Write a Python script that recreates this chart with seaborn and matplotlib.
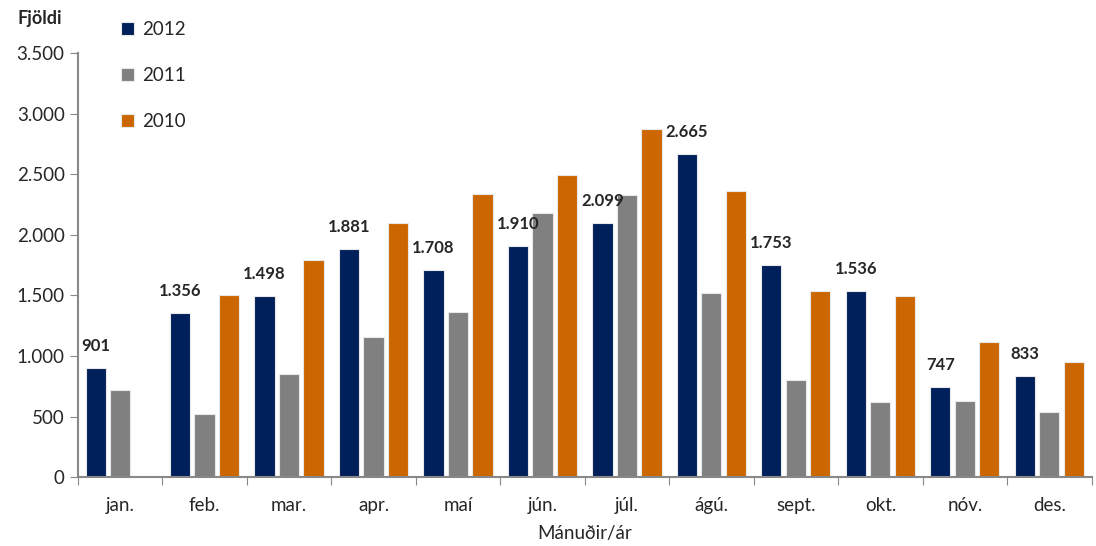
import numpy as np
import pandas as pd
import matplotlib.pyplot as plt
import seaborn as sns
from matplotlib.ticker import FixedLocator, FuncFormatter

months = ["jan.", "feb.", "mar.", "apr.", "maí", "jún.", "júl.", "ágú.", "sept.", "okt.", "nóv.", "des."]
years = ["2012", "2011", "2010"]
v2012 = [901, 1356, 1498, 1881, 1708, 1910, 2099, 2665, 1753, 1536, 747, 833]
v2011 = [720, 520, 850, 1158, 1362, 2180, 2330, 1522, 800, 622, 625, 537]
v2010 = [np.nan, 1505, 1792, 2097, 2337, 2494, 2874, 2362, 1536, 1492, 1112, 947]
colors = ["#00205B", "#808080", "#CC6600"]

df = pd.DataFrame({
    "month": months * 3,
    "year": [y for y in years for _ in months],
    "value": v2012 + v2011 + v2010,
})

sns.set_style("white")
plt.rcParams["font.family"] = ["Lato", "DejaVu Sans"]

fig = plt.figure(figsize=(10.96, 5.46), dpi=100)
ax = fig.add_axes([0.071, 0.126, 0.925, 0.777])

sns.barplot(data=df, x="month", y="value", hue="year", hue_order=years,
            palette=colors, saturation=1, width=0.87, gap=0.18,
            edgecolor="#e8e8e8", linewidth=0.8, ax=ax, legend=True)

# data labels for 2012
for i, v in enumerate(v2012):
    off = (-0.87 / 3)
    ax.annotate(f"{v:,}".replace(",", "."), (i + off, v), xytext=(0, 10),
                textcoords="offset points", ha="center", va="bottom",
                fontsize=12, fontweight="bold")

ax.set_ylim(0, 3500)
ax.set_xlim(-0.5, 11.5)
ax.set_yticks(np.arange(0, 3501, 500))
ax.yaxis.set_major_formatter(FuncFormatter(lambda x, p: f"{int(x):,}".replace(",", ".")))
ax.xaxis.set_major_locator(FixedLocator(np.arange(-0.5, 12, 1)))
ax.xaxis.set_major_formatter(FuncFormatter(lambda x, p: ""))
ax.xaxis.set_minor_locator(FixedLocator(np.arange(12)))
ax.set_xticklabels(months, minor=True)
ax.tick_params(axis="x", which="major", length=6, color="#888888", direction="out", bottom=True)
ax.tick_params(axis="x", which="minor", length=0, labelsize=13.5, pad=14)
ax.tick_params(axis="y", length=6, color="#888888", direction="out", left=True, labelsize=13.5)

for s in ["top", "right"]:
    ax.spines[s].set_visible(False)
for s in ["left", "bottom"]:
    ax.spines[s].set_color("#888888")
    ax.spines[s].set_linewidth(1.5)

ax.set_xlabel("Mánuðir/ár", fontsize=13.5, labelpad=8)
ax.set_ylabel("")
fig.text(0.016, 0.967, "Fjöldi", fontsize=13, fontweight="bold", va="center")

handles, labels = ax.get_legend_handles_labels()
ax.get_legend().remove()
fig.legend(handles, labels, loc="upper left", bbox_to_anchor=(0.095, 0.993),
           frameon=False, fontsize=13.5, labelspacing=1.55, handlelength=0.7,
           handleheight=0.7, handletextpad=0.4)

fig.savefig("out.png", dpi=100)
